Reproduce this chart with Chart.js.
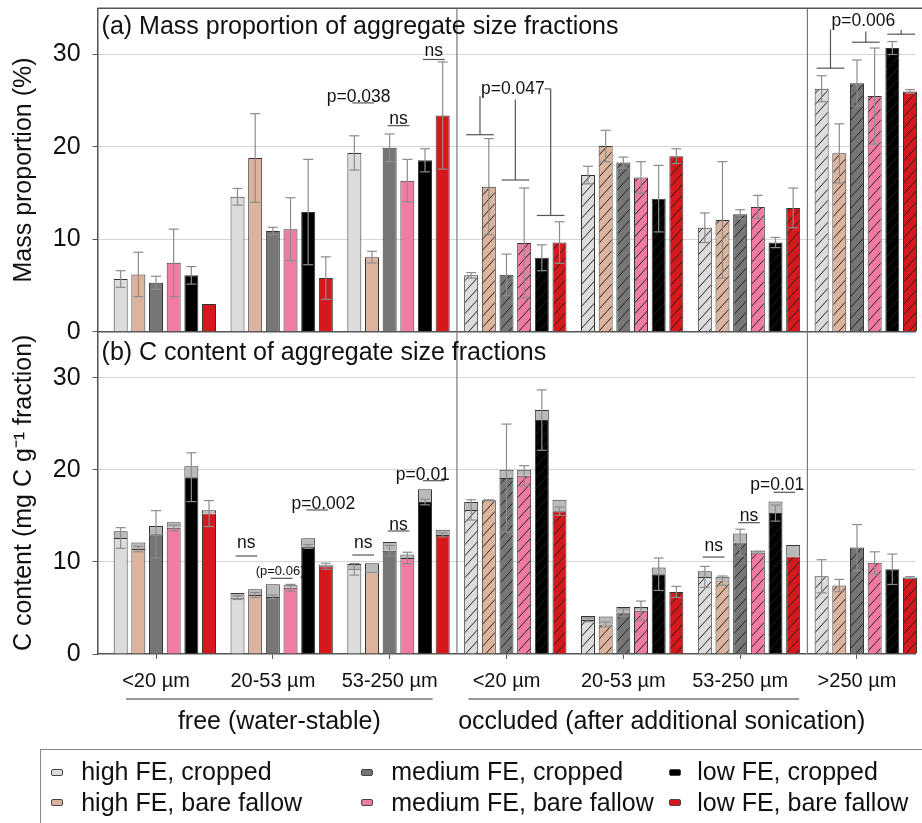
<!DOCTYPE html>
<html><head><meta charset="utf-8">
<script src="https://cdn.jsdelivr.net/npm/chart.js@4.4.1/dist/chart.umd.min.js"></script>
<style>
html,body{margin:0;padding:0;background:#fff;overflow:hidden;width:922px;height:823px;}
#wrap{position:relative;width:922px;height:823px;overflow:hidden;}
canvas{position:absolute;left:0;top:0;}
#legend{position:absolute;left:40px;top:749px;width:900px;height:120px;border-top:1.5px solid #8a8a8a;border-left:1.5px solid #8a8a8a;font-family:'Liberation Sans',Arial,sans-serif;font-size:25px;color:#111;}
.li{position:absolute;white-space:nowrap;line-height:30px;}
.sw{position:absolute;width:10px;height:5px;border:1px solid #444;border-radius:2px;}
</style></head>
<body>
<div id="wrap">
<canvas id="cA" width="922" height="340"></canvas>
<canvas id="cB" width="922" height="760"></canvas>
<div id="legend"></div>
</div>
<script>
// ---------------- DATA ----------------
const categories = ['<20 µm','20-53 µm','53-250 µm','<20 µm','20-53 µm','53-250 µm','>250 µm'];
const seriesNames = ['high FE, cropped','high FE, bare fallow','medium FE, cropped','medium FE, bare fallow','low FE, cropped','low FE, bare fallow'];
const yTickStep = 10;
const yMax = 35;

// (a) mass proportion (%)
const massHighCropped  = [5.7, 14.6, 19.35, 6.1, 16.95, 11.25, 26.3];
const massHighBare     = [6.2, 18.8, 8.07, 15.7, 20.1, 12.1, 19.3];
const massMedCropped   = [5.3, 10.9, 19.9, 6.15, 18.3, 12.7, 26.9];
const massMedBare      = [7.45, 11.1, 16.35, 9.6, 16.7, 13.5, 25.5];
const massLowCropped   = [6.1, 12.95, 18.55, 8.0, 14.4, 9.65, 30.7];
const massLowBare      = [3.0, 5.8, 23.4, 9.65, 19.0, 13.4, 26.0];
// (a) error (±)
const massErrHighCropped = [0.9, 0.9, 1.85, 0.3, 0.95, 1.6, 1.4];
const massErrHighBare    = [2.4, 4.8, 0.63, 5.2, 1.7, 6.3, 3.2];
const massErrMedCropped  = [0.7, 0.4, 1.5, 2.25, 0.6, 0.5, 2.5];
const massErrMedBare     = [3.65, 3.4, 2.3, 5.95, 1.7, 1.25, 5.2];
const massErrLowCropped  = [0.95, 5.7, 1.25, 1.4, 3.6, 0.55, 0.7];
const massErrLowBare     = [0, 2.3, 5.8, 2.25, 0.8, 2.15, 0.2];

// (b) C content: coloured part and total (grey cap on top)
const cBaseHighCropped  = [12.6, 6.12, 9.2, 15.65, 3.7, 8.37, 8.44];
const cTotalHighCropped = [13.33, 6.63, 9.78, 16.5, 4.13, 8.99, 8.44];
const cBaseHighBare     = [11.4, 6.4, 8.88, 16.7, 3.2, 7.97, 7.43];
const cTotalHighBare    = [12.1, 7.03, 9.86, 16.74, 4.06, 8.4, 7.43];
const cBaseMedCropped   = [13.0, 6.2, 11.2, 19.1, 4.5, 12.1, 11.56];
const cTotalMedCropped  = [13.9, 7.57, 12.17, 20.0, 5.1, 13.08, 11.56];
const cBaseMedBare      = [13.7, 7.2, 10.43, 19.35, 4.7, 11.0, 9.9];
const cTotalMedBare     = [14.3, 7.46, 10.8, 20.0, 5.1, 11.23, 9.9];
const cBaseLowCropped   = [19.2, 11.67, 16.5, 25.4, 8.66, 15.3, 9.2];
const cTotalLowCropped  = [20.4, 12.57, 17.9, 26.5, 9.38, 16.56, 9.2];
const cBaseLowBare      = [15.25, 9.53, 12.93, 15.5, 6.74, 10.58, 8.3];
const cTotalLowBare     = [15.6, 9.7, 13.48, 16.74, 6.74, 11.85, 8.3];
// (b) error (±)
const cErrHighCropped = [1.12, 0.2, 0.63, 1.1, 0.2, 1.14, 1.8];
const cErrHighBare    = [0.3, 0.27, 0, 0.05, 0.27, 0.5, 0.67];
const cErrMedCropped  = [2.57, 0.2, 0.58, 5.87, 0.4, 1.45, 2.5];
const cErrMedBare     = [0.3, 0.36, 0.62, 1.1, 1.05, 0.1, 1.2];
const cErrLowCropped  = [2.65, 0.2, 0.3, 3.28, 1.76, 0.87, 1.65];
const cErrLowBare     = [1.41, 0.33, 0.22, 0.45, 0.6, 0, 0.1];

// significance notes: [group, pair(0 high,1 medium,2 low), lineValue, text, textDx(px), textBaselineValue]
const massNotes = [
  [2, 0, 24.76, 'p=0.038', -4.6, 24.87],
  [2, 1, 22.30, 'ns', 0, 22.52],
  [2, 2, 29.46, 'ns', 0, 29.89]
];
const massBrackets = [
  {group: 3, text: 'p=0.047', textValue: 25.74, lineValues: [21.32, 16.42, 12.58], topValues: [25.48, 25.12, 26.28], stub: 2},
  {group: 6, text: 'p=0.006', textValue: 33.04, lineValues: [28.52, 31.33, 32.2], topValues: [32.71, 32.5, 32.64], stub: -1}
];
const cNotes = [
  [1, 0, 10.64, 'ns', 0, 11.48],
  [1, 1, 8.22, '(p=0.06)', -1.6, 8.54],
  [1, 2, 15.64, 'p=0.002', 6.4, 15.7],
  [2, 0, 10.75, 'ns', 0, 11.48],
  [2, 1, 13.36, 'ns', 0, 13.46],
  [2, 2, 18.82, 'p=0.01', -11, 18.9],
  [5, 0, 10.53, 'ns', 0, 11.22],
  [5, 1, 14.26, 'ns', 0, 14.48],
  [5, 2, 17.56, 'p=0.01', -7, 17.8]
];
const groupLabels = ['free (water-stable)', 'occluded (after additional sonication)'];
const panelTitles = ['(a) Mass proportion of aggregate size fractions', '(b) C content of aggregate size fractions'];

// ---------------- STYLE ----------------
const family = "'Liberation Sans', Arial, Helvetica, sans-serif";
Chart.defaults.font.family = family;
Chart.defaults.color = '#111';
const colors = ['#dcdcdc', '#dcb49d', '#767676', '#f27ca1', '#000000', '#d6171b'];
const capColor = '#bababa';
const borderCol = '#353535';
const errCol = '#8c8c8c';
const lineCol = '#555';

const massVals = [massHighCropped, massHighBare, massMedCropped, massMedBare, massLowCropped, massLowBare];
const massErrs = [massErrHighCropped, massErrHighBare, massErrMedCropped, massErrMedBare, massErrLowCropped, massErrLowBare];
const cBases = [cBaseHighCropped, cBaseHighBare, cBaseMedCropped, cBaseMedBare, cBaseLowCropped, cBaseLowBare];
const cTotals = [cTotalHighCropped, cTotalHighBare, cTotalMedCropped, cTotalMedBare, cTotalLowCropped, cTotalLowBare];
const cErrs = [cErrHighCropped, cErrHighBare, cErrMedCropped, cErrMedBare, cErrLowCropped, cErrLowBare];

const patternCache = {};
function hatch(chart, color) {
  const key = chart.id + color;
  if (patternCache[key]) return patternCache[key];
  const w = 10, h = 11;
  const c = document.createElement('canvas'); c.width = w; c.height = h;
  const g = c.getContext('2d');
  g.fillStyle = color; g.fillRect(0, 0, w, h);
  g.strokeStyle = '#222'; g.lineWidth = 1;
  g.beginPath();
  for (const dx of [-w, 0, w]) { g.moveTo(dx, h); g.lineTo(dx + w, 0); }
  g.stroke();
  const p = chart.ctx.createPattern(c, 'repeat');
  patternCache[key] = p; return p;
}
function fillFor(color) {
  return (ctx) => (ctx.type === 'data' && ctx.dataIndex >= 3) ? hatch(ctx.chart, color) : color;
}

const CAT_PCT = 1.0587, BAR_PCT = 0.792;
const spacer = () => ({label: '', data: categories.map(() => 0), backgroundColor: 'rgba(0,0,0,0)', borderWidth: 0, stack: 's0'});

function line(ctx, x1, y1, x2, y2) { ctx.beginPath(); ctx.moveTo(x1, y1); ctx.lineTo(x2, y2); ctx.stroke(); }
function barX(chart, ds, g) { return chart.getDatasetMeta(ds).data[g].x; }

function drawErrors(chart, dsOf, centers, errs) {
  const ctx = chart.ctx, y = chart.scales.y;
  ctx.save(); ctx.strokeStyle = errCol; ctx.lineWidth = 1.2;
  for (let s = 0; s < 6; s++) {
    for (let g = 0; g < categories.length; g++) {
      const e = errs[s][g]; if (!e) continue;
      const x = barX(chart, dsOf(s), g);
      const yt = y.getPixelForValue(centers[s][g] + e), yb = y.getPixelForValue(centers[s][g] - e);
      line(ctx, x, yt, x, yb);
      line(ctx, x - 5, yt, x + 5, yt);
      line(ctx, x - 5, yb, x + 5, yb);
    }
  }
  ctx.restore();
}
function drawSeparators(chart, firstDs, lastDs) {
  const ctx = chart.ctx, a = chart.chartArea;
  ctx.save(); ctx.strokeStyle = '#7a7a7a'; ctx.lineWidth = 1.2;
  for (const g of [2, 5]) {
    const x = (barX(chart, lastDs, g) + barX(chart, firstDs, g + 1)) / 2;
    line(ctx, x, a.top, x, a.bottom);
  }
  ctx.restore();
}
function drawTitle(chart, text, dy) {
  const ctx = chart.ctx, a = chart.chartArea;
  ctx.save(); ctx.fillStyle = '#111'; ctx.font = '25px ' + family;
  ctx.textAlign = 'left'; ctx.textBaseline = 'middle';
  ctx.fillText(text, a.left + 4, a.top + dy);
  ctx.restore();
}
function drawNotes(chart, notes, dsOf) {
  const ctx = chart.ctx, y = chart.scales.y;
  ctx.save(); ctx.strokeStyle = lineCol; ctx.lineWidth = 1.2; ctx.fillStyle = '#111';
  ctx.textAlign = 'center'; ctx.textBaseline = 'alphabetic';
  for (const [g, p, lv, txt, dx, tv] of notes) {
    const x1 = barX(chart, dsOf(2 * p), g) - 2, x2 = barX(chart, dsOf(2 * p + 1), g) + 2;
    const ly = y.getPixelForValue(lv);
    line(ctx, x1, ly, x2, ly);
    ctx.font = (txt.startsWith('(') ? '13px ' : '17.5px ') + family;
    ctx.fillText(txt, (x1 + x2) / 2 + dx, y.getPixelForValue(tv));
  }
  ctx.restore();
}
function drawBrackets(chart, brackets, dsOf) {
  const ctx = chart.ctx, y = chart.scales.y;
  ctx.save(); ctx.strokeStyle = lineCol; ctx.lineWidth = 1.2; ctx.fillStyle = '#111';
  for (const b of brackets) {
    let firstX = null;
    for (let p = 0; p < 3; p++) {
      const x1 = barX(chart, dsOf(2 * p), b.group) - 5, x2 = barX(chart, dsOf(2 * p + 1), b.group) + 5;
      const xm = (x1 + x2) / 2;
      if (p === 0) firstX = xm;
      const ly = y.getPixelForValue(b.lineValues[p]), ty = y.getPixelForValue(b.topValues[p]);
      line(ctx, x1, ly, x2, ly);
      line(ctx, xm, ly, xm, ty);
      if (p === b.stub) line(ctx, xm, ty, xm - 6, ty);
    }
    ctx.font = '17.5px ' + family; ctx.textAlign = 'left'; ctx.textBaseline = 'alphabetic';
    ctx.fillText(b.text, firstX + 1, y.getPixelForValue(b.textValue));
  }
  ctx.restore();
}

function yScale(title) {
  return {
    min: 0, max: yMax,
    ticks: {stepSize: yTickStep, includeBounds: false, padding: 12, color: '#111', font: {size: 25, family}},
    grid: {color: (c) => (c.tick && c.tick.value === 0) ? 'rgba(0,0,0,0)' : '#d4d4d4', tickColor: '#555', tickLength: 5, lineWidth: 1},
    border: {color: '#555', width: 1.5},
    title: {display: true, text: title, color: '#111', font: {size: 25, family}, padding: {top: 9, bottom: 0}},
    afterFit: (s) => { s.width = 97.6; s.paddingTop = 0; s.paddingBottom = 0; }
  };
}

// ---------------- CHART A ----------------
const dsA = [spacer()];
massVals.forEach((v, i) => dsA.push({
  label: seriesNames[i], data: v, stack: 's' + (i + 1),
  backgroundColor: fillFor(colors[i]), borderColor: borderCol, borderWidth: 1, borderSkipped: 'start', clip: false
}));
const pluginA = {
  id: 'panelA',
  afterDatasetsDraw(chart) {
    const ctx = chart.ctx, a = chart.chartArea;
    drawErrors(chart, (s) => s + 1, massVals, massErrs);
    drawSeparators(chart, 1, 6);
    ctx.save(); ctx.strokeStyle = '#555'; ctx.lineWidth = 1.5; line(ctx, a.left, a.top, chart.width, a.top); ctx.restore();
    drawTitle(chart, panelTitles[0], 18.4);
    drawNotes(chart, massNotes, (s) => s + 1);
    drawBrackets(chart, massBrackets, (s) => s + 1);
  }
};
new Chart(document.getElementById('cA'), {
  type: 'bar',
  data: {labels: categories, datasets: dsA},
  options: {
    responsive: false, animation: false, devicePixelRatio: 1,
    layout: {padding: {top: 8.3, right: 6.6, bottom: 0, left: 0}},
    datasets: {bar: {categoryPercentage: CAT_PCT, barPercentage: BAR_PCT}},
    plugins: {legend: {display: false}, tooltip: {enabled: false}},
    scales: {
      x: {type: 'category', offset: true, grid: {display: false}, border: {display: true, color: '#555', width: 1.5},
          ticks: {display: false}, afterFit: (s) => { s.height = 8.3; s.paddingLeft = 0; s.paddingRight = 0; }},
      y: yScale('Mass proportion (%)')
    }
  },
  plugins: [pluginA]
});

// ---------------- CHART B ----------------
const dsB = [spacer()];
cBases.forEach((v, i) => {
  dsB.push({label: seriesNames[i], data: v, stack: 's' + (i + 1),
    backgroundColor: fillFor(colors[i]), borderColor: borderCol, borderWidth: 1, borderSkipped: 'start', clip: false});
  const cap = cTotals[i].map((t, g) => Math.max(0, +(t - v[g]).toFixed(3)));
  dsB.push({label: seriesNames[i] + ' (cap)', data: cap, stack: 's' + (i + 1),
    backgroundColor: capColor, borderColor: borderCol,
    borderWidth: (c) => (c.type === 'data' && cap[c.dataIndex] > 0) ? 1 : 0, borderSkipped: 'start', clip: false});
});
const pluginB = {
  id: 'panelB',
  afterDatasetsDraw(chart) {
    drawErrors(chart, (s) => 1 + 2 * s, cBases, cErrs);
    drawSeparators(chart, 1, 11);
    drawTitle(chart, panelTitles[1], 21.6);
    drawNotes(chart, cNotes, (s) => 1 + 2 * s);
  },
  afterDraw(chart) {
    const ctx = chart.ctx, a = chart.chartArea, xs = chart.scales.x;
    const x0 = xs.getPixelForValue(0), x2 = xs.getPixelForValue(2), x3 = xs.getPixelForValue(3), x5 = xs.getPixelForValue(5);
    const ly = a.bottom + 45;
    ctx.save(); ctx.strokeStyle = '#777'; ctx.lineWidth = 1.5;
    line(ctx, x0 - 30, ly, x2 + 43, ly);
    line(ctx, x3 - 38, ly, x5 + 59, ly);
    ctx.fillStyle = '#111'; ctx.font = '25px ' + family; ctx.textAlign = 'center'; ctx.textBaseline = 'middle';
    ctx.fillText(groupLabels[0], (x0 - 30 + x2 + 43) / 2, a.bottom + 68);
    ctx.fillText(groupLabels[1], (x3 + xs.getPixelForValue(6)) / 2 - 20, a.bottom + 68);
    ctx.restore();
  }
};
new Chart(document.getElementById('cB'), {
  type: 'bar',
  data: {labels: categories, datasets: dsB},
  options: {
    responsive: false, animation: false, devicePixelRatio: 1,
    layout: {padding: {top: 331.7, right: 6.6, bottom: 0, left: 0}},
    datasets: {bar: {categoryPercentage: CAT_PCT, barPercentage: BAR_PCT}},
    plugins: {legend: {display: false}, tooltip: {enabled: false}},
    scales: {
      x: {type: 'category', offset: true, stacked: true,
          grid: {display: true, drawOnChartArea: false, drawTicks: true, tickLength: 5, offset: false, color: '#555'},
          border: {display: true, color: '#555', width: 1.5},
          ticks: {display: true, autoSkip: false, maxRotation: 0, padding: 10, color: '#111', font: {size: 20, family}},
          afterFit: (s) => { s.height = 760 - 654; s.paddingLeft = 0; s.paddingRight = 0; }},
      y: Object.assign(yScale('C content (mg C g⁻¹ fraction)'), {stacked: true})
    }
  },
  plugins: [pluginB]
});

// ---------------- LEGEND (HTML) ----------------
const legend = document.getElementById('legend');
const colX = [[10.2, 40.2], [320.2, 350.2], [627.8, 656.2]];
const rowY = [22.2, 52.8];
const order = [[0, 0, 0], [1, 0, 1], [2, 1, 0], [3, 1, 1], [4, 2, 0], [5, 2, 1]];
for (const [i, col, row] of order) {
  const sw = document.createElement('div'); sw.className = 'sw';
  sw.style.left = colX[col][0] + 'px'; sw.style.top = (rowY[row] - 3.5) + 'px'; sw.style.background = colors[i];
  legend.appendChild(sw);
  const t = document.createElement('div'); t.className = 'li'; t.textContent = seriesNames[i];
  t.style.left = colX[col][1] + 'px'; t.style.top = (rowY[row] - 16) + 'px';
  legend.appendChild(t);
}
</script>
</body></html>
